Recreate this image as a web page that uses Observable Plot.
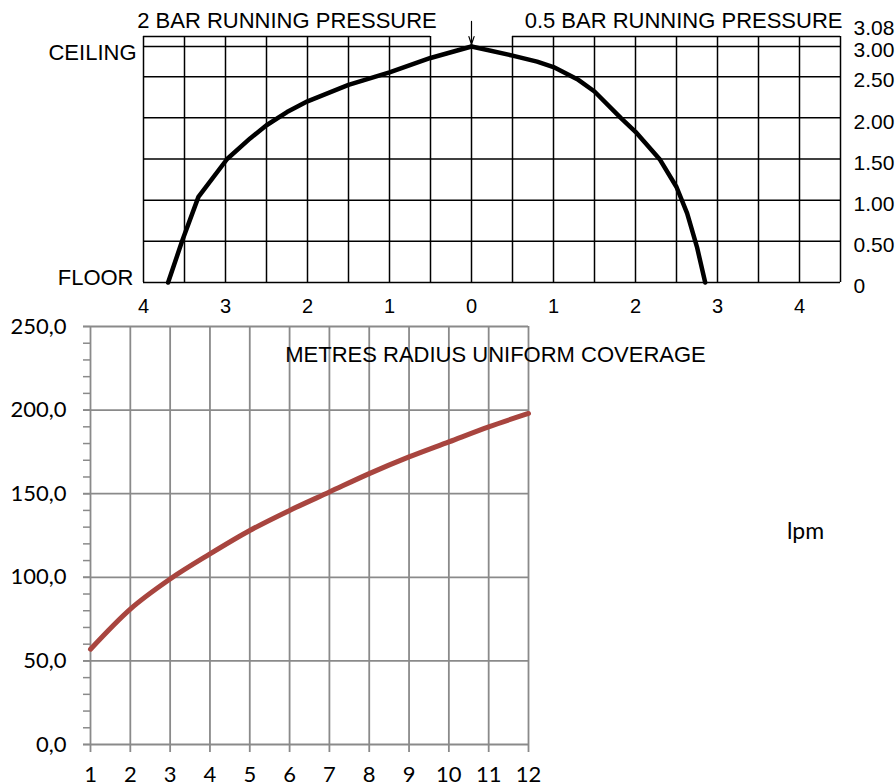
<!DOCTYPE html>
<html><head><meta charset="utf-8">
<script src="https://cdn.jsdelivr.net/npm/d3@7"></script>
<script src="https://cdn.jsdelivr.net/npm/@observablehq/plot@0.6"></script>
<style>
html,body{margin:0;padding:0;background:#fff;}
#wrap{position:relative;width:896px;height:784px;overflow:hidden;background:#fff;}
#top,#bottom{position:absolute;left:0;}
#top{top:0;}
#bottom{top:300px;}
</style></head>
<body><div id="wrap"><div id="top"></div><div id="bottom"></div></div>
<script>
// ---------- Upper chart: spray profile ----------
// radius in metres (left side shown as negative = 2 bar, right side positive = 0.5 bar)
const leftRadius  = [0, 0.5, 1.0, 1.5, 2.0, 2.25, 2.5, 2.7, 2.98, 3.33, 3.53, 3.70];
const leftHeight  = [3.0, 2.81, 2.57, 2.40, 2.20, 2.07, 1.91, 1.75, 1.50, 1.04, 0.50, 0];
const rightRadius = [0, 0.5, 0.8, 1.0, 1.29, 1.5, 1.82, 2.0, 2.3, 2.5, 2.63, 2.75, 2.85];
const rightHeight = [3.0, 2.85, 2.75, 2.66, 2.47, 2.32, 2.0, 1.83, 1.49, 1.16, 0.84, 0.43, 0];

const upperXMin = -4, upperXMax = 4.5, gapHalf = 0.5;
const heightLevels = [0, 0.5, 1.0, 1.5, 2.0, 2.5, 3.0];   // 3.0 = ceiling
const topLevel = 3.08;
const verticalLines = [-4, -3.5, -3, -2.5, -2, -1.5, -1, -0.5, 0.5, 1, 1.5, 2, 2.5, 3, 3.5, 4, 4.5];
const upperXTicks = [-4, -3, -2, -1, 0, 1, 2, 3, 4];
const rightLabels = ["0", "0.50", "1.00", "1.50", "2.00", "2.50", "3.00"];

// ---------- Lower chart: flow vs radius ----------
const metres = [1, 2, 3, 4, 5, 6, 7, 8, 9, 10, 11, 12];
const lpm    = [57, 81, 99, 114, 128, 140, 151, 162, 172, 181, 190, 198];
const lowerMajor = [0, 50, 100, 150, 200, 250];
const lowerMinor = [0, 10, 20, 30, 40, 50, 60, 70, 80, 90, 100, 110, 120, 130, 140, 150, 160, 170, 180, 190, 200, 210, 220, 230, 240, 250];

const profile = [
  ...leftRadius.map((r, i) => ({x: -r, y: leftHeight[i], side: "2 bar"})),
  ...rightRadius.map((r, i) => ({x: r, y: rightHeight[i], side: "0.5 bar"}))
];

// The drawing compresses the band between 2.50 and the 3.08 top line
const yWarp = d3.scaleLinear().domain([0, 2.5, 3.0, 3.08]).range([0, 2.5, 2.5 + 30 / 82, 2.5 + 40 / 82]);

const sans = "Liberation Sans, Arial, sans-serif";

const upper = Plot.plot({
  width: 896, height: 320,
  marginLeft: 143, marginRight: 56, marginTop: 36, marginBottom: 38,
  style: {background: "transparent", overflow: "visible", fontFamily: sans},
  x: {domain: [upperXMin, upperXMax], label: null},
  y: {transform: yWarp, domain: [0, yWarp(topLevel)], label: null},
  marks: [
    Plot.ruleY(heightLevels, {y: d => d, x1: upperXMin, x2: upperXMax, stroke: "black", strokeWidth: 1.5}),
    Plot.ruleY([{a: upperXMin, b: -gapHalf}, {a: gapHalf, b: upperXMax}], {y: () => topLevel, x1: "a", x2: "b", stroke: "black", strokeWidth: 1.5}),
    Plot.ruleX(verticalLines, {x: d => d, y1: () => 0, y2: () => topLevel, stroke: "black", strokeWidth: 1.5}),
    Plot.ruleX([0], {x: d => d, y1: () => 0, y2: () => 3.0, stroke: "black", strokeWidth: 1.5}),
    Plot.line(profile, {x: "x", y: "y", z: "side", stroke: "black", strokeWidth: 4.5, strokeLinejoin: "round"}),
    Plot.arrow([0], {x1: d => d, x2: d => d, y1: () => 3.2, y2: () => 3.0, insetEnd: 2, stroke: "black", strokeWidth: 1.2, headLength: 11, headAngle: 36}),
    Plot.axisX({ticks: upperXTicks, tickFormat: d => String(Math.abs(d)), tickSize: 0, tickPadding: 16, fontSize: 20, fontFamily: sans, fill: "black", label: null}),
    Plot.axisY(heightLevels, {anchor: "right", tickFormat: (d, i) => rightLabels[i], tickSize: 0, tickPadding: 13, dy: 4, fontSize: 21, fontFamily: sans, fill: "black", textAnchor: "start", label: null}),
    Plot.axisY([topLevel], {anchor: "right", tickFormat: d => d.toFixed(2), tickSize: 0, tickPadding: 13, dy: -8, fontSize: 21, fontFamily: sans, fill: "black", textAnchor: "start", label: null}),
    Plot.text(["2 BAR RUNNING PRESSURE"], {x: () => (upperXMin - gapHalf) / 2, y: () => topLevel, dy: -16, text: d => d, fontSize: 22, fontFamily: sans, fill: "black", lineAnchor: "middle"}),
    Plot.text(["0.5 BAR RUNNING PRESSURE"], {x: () => upperXMax, y: () => topLevel, dx: 2, dy: -16, text: d => d, textAnchor: "end", fontSize: 22, fontFamily: sans, fill: "black", lineAnchor: "middle"}),
    Plot.text(["CEILING"], {x: () => upperXMin, y: () => 3.0, dx: -7, dy: 6, text: d => d, textAnchor: "end", fontSize: 22, fontFamily: sans, fill: "black", lineAnchor: "middle"}),
    Plot.text(["FLOOR"], {x: () => upperXMin, y: () => 0, dx: -10, dy: -5, text: d => d, textAnchor: "end", fontSize: 22, fontFamily: sans, fill: "black", lineAnchor: "middle"})
  ]
});
document.getElementById("top").appendChild(upper);

const gray = "#8a8a8a";
const fmt = d => d.toFixed(1).replace(".", ",");
const lato = "Lato, sans-serif";

const lower = Plot.plot({
  width: 896, height: 484,
  marginLeft: 90, marginRight: 368, marginTop: 26, marginBottom: 40,
  style: {background: "transparent", overflow: "visible", fontFamily: lato},
  x: {domain: [1, 12], label: null},
  y: {domain: [0, 250], label: null},
  marks: [
    Plot.ruleX(metres, {x: d => d, y1: () => 0, y2: () => 250, stroke: gray, strokeWidth: 1.8}),
    Plot.ruleY(lowerMajor, {y: d => d, x1: () => 1, x2: () => 12, stroke: gray, strokeWidth: 1.8}),
    Plot.axisY(lowerMinor, {tickFormat: () => "", tickSize: 7, stroke: gray, strokeWidth: 1.5, label: null}),
    Plot.axisY(lowerMajor, {tickFormat: fmt, tickSize: 7, tickPadding: 17, stroke: gray, strokeWidth: 1.8, fill: "black", fontSize: 22, fontFamily: lato, label: null}),
    Plot.axisX(metres, {tickFormat: d => String(d), tickSize: 8, tickPadding: 14, stroke: gray, strokeWidth: 1.8, fill: "black", fontSize: 22, fontFamily: lato, label: null}),
    Plot.line(metres.map((m, i) => ({m, v: lpm[i]})), {x: "m", y: "v", stroke: "#a8453f", strokeWidth: 5, curve: "monotone-x"}),
    Plot.text(["METRES RADIUS UNIFORM COVERAGE"], {frameAnchor: "top-left", dx: 405, dy: 28, text: d => d, textAnchor: "middle", lineAnchor: "middle", fontSize: 22, fontFamily: sans, fill: "black"}),
    Plot.text(["lpm"], {frameAnchor: "top-left", dx: 715, dy: 205, text: d => d, textAnchor: "middle", lineAnchor: "middle", fontSize: 23, fontFamily: lato, fill: "black"})
  ]
});
document.getElementById("bottom").appendChild(lower);
</script>
</body></html>
